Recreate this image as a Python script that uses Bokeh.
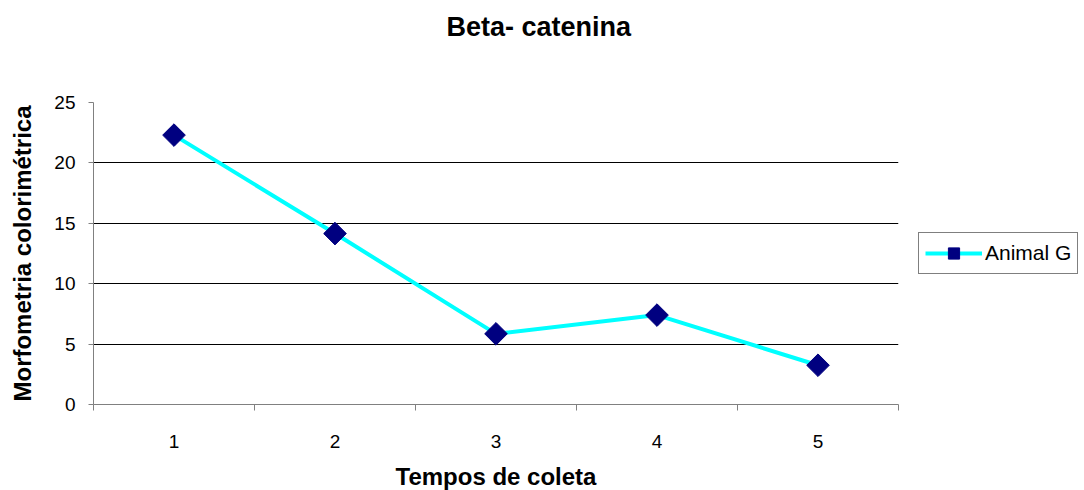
import numpy as np
from bokeh.plotting import figure
from bokeh.models import Range1d, FixedTicker, Legend, LegendItem, Title
from bokeh.embed import file_html
from bokeh.resources import INLINE

# ---- data ----
title_text = "Beta- catenina"
x_label = "Tempos de coleta"
y_label = "Morfometria colorimétrica"
series_name = "Animal G"
tempos = [1, 2, 3, 4, 5]
valores = [22.3, 14.15, 5.85, 7.4, 3.25]
y_ticks = [0, 5, 10, 15, 20, 25]

FONT = "Liberation Sans"

p = figure(frame_width=805, frame_height=302, output_backend="svg", toolbar_location=None,
           x_range=Range1d(0.5, 5.5), y_range=Range1d(0, 25),
           min_border_left=93, min_border_right=186,
           min_border_top=102, min_border_bottom=86)
p.outline_line_color = None
p.background_fill_color = "white"
p.border_fill_color = "white"
p.title.text = ""

# spacer between frame and title, then the title itself (further from the frame)
p.add_layout(Title(text=" ", text_font_size="1px", standoff=56), "above")
p.add_layout(Title(text=title_text, text_font=FONT, text_font_size="27px",
                   text_font_style="bold", text_color="black", align="left",
                   offset=353, vertical_align="top", standoff=0), "above")

line_r = p.line(tempos, valores, line_color="#00FFFF", line_width=4)
pts_r = p.scatter(tempos, valores, marker="square", size=16, angle=np.pi / 4,
                  fill_color="#000080", line_color="#000080")

# x axis: labels at centres, ticks at category boundaries
bounds = [t - 0.5 for t in tempos] + [tempos[-1] + 0.5]
p.xaxis.ticker = FixedTicker(ticks=tempos, minor_ticks=bounds)
p.xaxis.major_tick_out = 0
p.xaxis.major_tick_in = 0
p.xaxis.minor_tick_out = 6
p.xaxis.minor_tick_in = 0
p.xaxis.minor_tick_line_color = "#808080"
p.xaxis.axis_line_color = "#808080"
p.xaxis.major_label_text_font = FONT
p.xaxis.major_label_text_font_size = "19px"
p.xaxis.major_label_text_color = "black"
p.xaxis.major_label_standoff = 24
p.xaxis.axis_label = x_label
p.xaxis.axis_label_text_font = FONT
p.xaxis.axis_label_text_font_size = "24px"
p.xaxis.axis_label_text_font_style = "bold"
p.xaxis.axis_label_text_color = "black"
p.xaxis.axis_label_standoff = 12

p.yaxis.ticker = FixedTicker(ticks=y_ticks)
p.yaxis.major_tick_out = 5
p.yaxis.major_tick_in = 0
p.yaxis.minor_tick_line_color = None
p.yaxis.major_tick_line_color = "#808080"
p.yaxis.axis_line_color = "#808080"
p.yaxis.major_label_text_font = FONT
p.yaxis.major_label_text_font_size = "19px"
p.yaxis.major_label_text_color = "black"
p.yaxis.major_label_standoff = 13
p.yaxis.axis_label = y_label
p.yaxis.axis_label_text_font = FONT
p.yaxis.axis_label_text_font_size = "24px"
p.yaxis.axis_label_text_font_style = "bold"
p.yaxis.axis_label_text_color = "black"
p.yaxis.axis_label_standoff = 15

p.xgrid.grid_line_color = None
p.ygrid.grid_line_color = "#000000"
p.ygrid.grid_line_width = 1

legend = Legend(items=[LegendItem(label=series_name, renderers=[line_r, pts_r])],
                location="center_left", margin=20, padding=6, spacing=0,
                glyph_width=57, glyph_height=28, label_standoff=3,
                label_text_font=FONT, label_text_font_size="21px",
                label_text_color="black",
                border_line_color="black", border_line_width=1,
                background_fill_color="white", background_fill_alpha=1)
p.add_layout(legend, "right")

open("out.html", "w").write(file_html(p, INLINE))
